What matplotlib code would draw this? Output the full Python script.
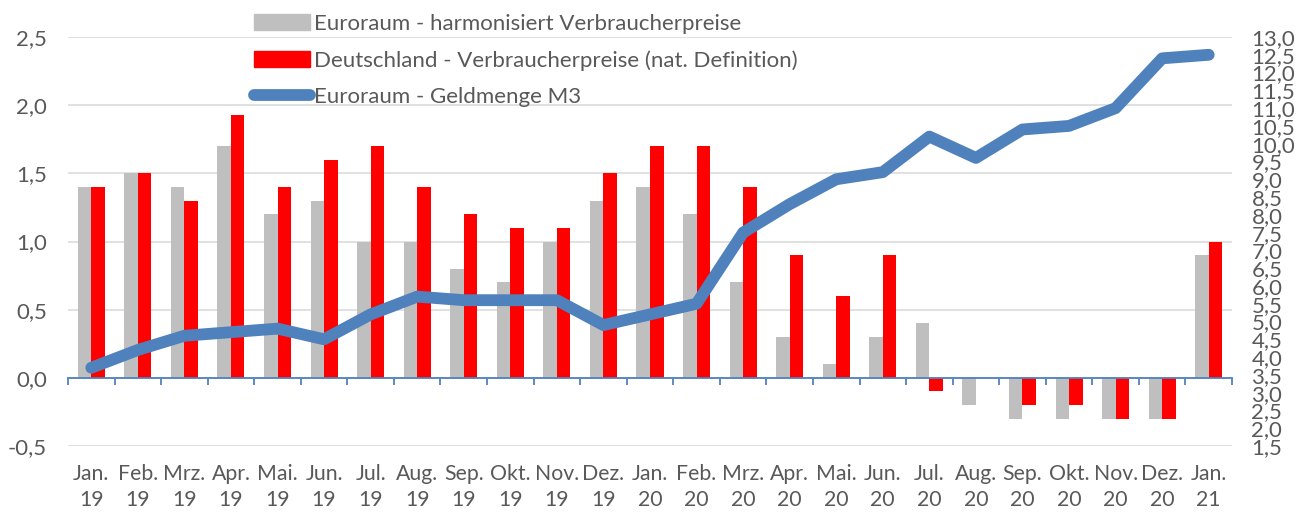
import matplotlib
matplotlib.use("Agg")
from matplotlib import pyplot as plt
from matplotlib.patches import Patch
from matplotlib.lines import Line2D
import matplotlib.ticker as ticker
import numpy as np

months = ["Jan.", "Feb.", "Mrz.", "Apr.", "Mai.", "Jun.", "Jul.", "Aug.", "Sep.", "Okt.", "Nov.", "Dez.",
          "Jan.", "Feb.", "Mrz.", "Apr.", "Mai.", "Jun.", "Jul.", "Aug.", "Sep.", "Okt.", "Nov.", "Dez.",
          "Jan."]
years = ["19"] * 12 + ["20"] * 12 + ["21"]

hicp_euro = [1.4, 1.5, 1.4, 1.7, 1.2, 1.3, 1.0, 1.0, 0.8, 0.7, 1.0, 1.3,
             1.4, 1.2, 0.7, 0.3, 0.1, 0.3, 0.4, -0.2, -0.3, -0.3, -0.3, -0.3,
             0.9]
cpi_de = [1.4, 1.5, 1.3, 1.93, 1.4, 1.6, 1.7, 1.4, 1.2, 1.1, 1.1, 1.5,
          1.7, 1.7, 1.4, 0.9, 0.6, 0.9, -0.1, 0.0, -0.2, -0.2, -0.3, -0.3,
          1.0]
m3_euro = [3.7, 4.2, 4.6, 4.7, 4.8, 4.5, 5.2, 5.7, 5.6, 5.6, 5.6, 4.9,
           5.2, 5.5, 7.5, 8.3, 9.0, 9.2, 10.2, 9.6, 10.4, 10.5, 11.0, 12.4,
           12.5]

labels = ["Euroraum - harmonisiert Verbraucherpreise",
          "Deutschland - Verbraucherpreise (nat. Definition)",
          "Euroraum - Geldmenge M3"]

GRAY = "#bfbfbf"
RED = "#ff0000"
BLUE = "#4f81bd"
TXT = "#595959"
GRID = "#d9d9d9"
FS = 16

plt.rcParams["font.family"] = ["Lato", "DejaVu Sans"]

fig = plt.figure(figsize=(12.99, 5.18), dpi=100)
ax = fig.add_axes([68 / 1299, 72 / 518, 1164 / 1299, 409 / 518])
ax2 = ax.twinx()

x = np.arange(len(months))
w = 0.29
ax.bar(x - w / 2, hicp_euro, w, color=GRAY, zorder=2)
ax.bar(x + w / 2, cpi_de, w, color=RED, zorder=2)

ax.set_xlim(-0.5, len(months) - 0.5)
ax.set_ylim(-0.5, 2.5)
ax.yaxis.set_major_locator(ticker.MultipleLocator(0.5))
ax.yaxis.set_major_formatter(ticker.FuncFormatter(lambda v, p: f"{v:.1f}".replace(".", ",")))
ax.grid(axis="y", color=GRID, linewidth=1.1, zorder=0)
ax.set_axisbelow(True)

for s in ["top", "left", "right"]:
    ax.spines[s].set_visible(False)
ax.spines["bottom"].set_position(("data", 0))
ax.spines["bottom"].set_color(BLUE)
ax.spines["bottom"].set_linewidth(1.3)
ax.spines["bottom"].set_zorder(3)

ax.set_xticks(x)
ax.set_xticklabels([f"{m}\n{y}" for m, y in zip(months, years)], linespacing=1.35)
ax.set_xticks(np.arange(-0.5, len(months)), minor=True)
ax.tick_params(axis="x", which="major", length=0, pad=62, labelsize=15.3, labelcolor=TXT)
ax.tick_params(axis="x", which="minor", length=5, width=1.3, color=BLUE, direction="out")
ax.tick_params(axis="y", length=0, pad=15, labelsize=FS, labelcolor=TXT)

ax2.plot(x, m3_euro, color=BLUE, linewidth=8.5, solid_capstyle="round", solid_joinstyle="round", zorder=4)
ax2.set_ylim(1.5, 13.0)
ax2.yaxis.set_major_locator(ticker.MultipleLocator(0.5))
ax2.yaxis.set_major_formatter(ticker.FuncFormatter(lambda v, p: f"{v:.1f}".replace(".", ",")))
ax2.tick_params(axis="y", length=0, pad=14, labelsize=FS, labelcolor=TXT)
for s in ax2.spines.values():
    s.set_visible(False)

handles = [Patch(color=GRAY), Patch(color=RED),
           Line2D([0], [0], color=BLUE, linewidth=8.5, solid_capstyle="round")]
fig.legend(handles, labels, loc="upper left", bbox_to_anchor=(254 / 1299, 1 - 14 / 518),
           frameon=False, fontsize=FS, labelcolor=TXT, handlelength=2.5, handletextpad=0.2,
           labelspacing=0.72, borderpad=0, borderaxespad=0)

fig.savefig("out.png", dpi=100)
